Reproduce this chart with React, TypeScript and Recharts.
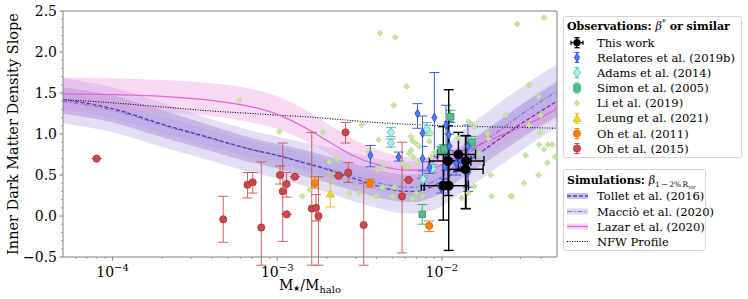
import React from "react";
import {
  ComposedChart,
  Area,
  Line,
  Scatter,
  ErrorBar,
  XAxis,
  YAxis,
  ReferenceLine,
} from "recharts";

const SERIF = "'DejaVu Serif', serif";
const AXIS = "#808080";

// simulation curves, sampled on a log grid of M*/Mhalo
const CURVE_X = [5e-5, 1e-4, 2e-4, 4e-4, 7e-4, 1e-3, 1.5e-3, 2e-3, 3e-3, 4e-3, 5e-3, 6e-3, 7e-3, 8e-3, 1e-2, 1.3e-2, 1.7e-2, 2.2e-2, 3e-2, 4e-2, 5e-2];
const TOLLET = [1.42, 1.31, 1.12, 0.95, 0.81, 0.74, 0.64, 0.57, 0.45, 0.37, 0.32, 0.3, 0.3, 0.33, 0.42, 0.6, 0.77, 0.93, 1.12, 1.28, 1.4];
const TOLLET_OUT_LO = [1.13, 1.02, 0.84, 0.67, 0.53, 0.46, 0.36, 0.29, 0.17, 0.1, 0.05, 0.03, 0.03, 0.05, 0.12, 0.28, 0.44, 0.6, 0.79, 0.96, 1.08];
const TOLLET_OUT_HI = [1.68, 1.57, 1.38, 1.18, 1.04, 0.97, 0.89, 0.84, 0.76, 0.7, 0.67, 0.66, 0.67, 0.71, 0.82, 1.02, 1.2, 1.37, 1.56, 1.73, 1.84];
const TOLLET_IN_LO = [1.25, 1.14, 0.96, 0.79, 0.65, 0.58, 0.48, 0.41, 0.3, 0.23, 0.19, 0.17, 0.17, 0.2, 0.28, 0.45, 0.61, 0.76, 0.94, 1.1, 1.22];
const TOLLET_IN_HI = [1.57, 1.47, 1.29, 1.1, 0.95, 0.88, 0.8, 0.73, 0.63, 0.56, 0.52, 0.5, 0.51, 0.54, 0.64, 0.83, 1.0, 1.16, 1.35, 1.51, 1.63];
const MACCIO = [1.4, 1.29, 1.11, 0.94, 0.81, 0.74, 0.65, 0.58, 0.48, 0.41, 0.37, 0.35, 0.35, 0.38, 0.48, 0.68, 0.87, 1.03, 1.23, 1.4, 1.52];
const MACCIO_LO = [1.3, 1.19, 1.01, 0.84, 0.71, 0.64, 0.55, 0.48, 0.38, 0.31, 0.27, 0.25, 0.25, 0.28, 0.38, 0.57, 0.76, 0.92, 1.11, 1.27, 1.38];
const MACCIO_HI = [1.5, 1.39, 1.21, 1.04, 0.91, 0.84, 0.75, 0.68, 0.58, 0.51, 0.47, 0.45, 0.45, 0.48, 0.58, 0.79, 0.98, 1.14, 1.35, 1.53, 1.66];
const LAZAR = [1.49, 1.48, 1.46, 1.41, 1.33, 1.24, 1.07, 0.92, 0.72, 0.63, 0.58, 0.56, 0.56, 0.57, 0.62, 0.74, 0.87, 0.97, 1.08, 1.2, 1.31];
const LAZAR_LO = [1.29, 1.28, 1.26, 1.22, 1.14, 1.06, 0.91, 0.77, 0.57, 0.48, 0.44, 0.43, 0.43, 0.45, 0.5, 0.63, 0.76, 0.86, 0.98, 1.1, 1.2];
const LAZAR_HI = [1.69, 1.68, 1.66, 1.62, 1.55, 1.46, 1.29, 1.13, 0.92, 0.81, 0.75, 0.72, 0.71, 0.71, 0.75, 0.86, 0.98, 1.08, 1.19, 1.31, 1.41];
const NFW = [1.42, 1.38, 1.33, 1.28, 1.25, 1.23, 1.21, 1.19, 1.16, 1.14, 1.13, 1.12, 1.115, 1.11, 1.1, 1.095, 1.09, 1.085, 1.08, 1.075, 1.07];

// observations: [x, y, yLow, yHigh]  (null = no error bar)
const OH2015 = [
  [8.0e-5, 0.7, null, null], [4.7e-4, -0.04, -0.32, 0.24], [6.6e-4, 0.38, 0.22, 0.53],
  [7.1e-4, 0.41, 0.28, 0.53], [8.0e-4, -0.14, -0.6, 0.66], [1.04e-3, 0.5, 0.39, 0.61],
  [1.08e-3, 0.3, -0.31, 0.89], [1.14e-3, 0.39, 0.23, 0.53], [1.14e-3, 0.02, null, null],
  [1.28e-3, 0.48, null, null], [1.62e-3, 0.09, -0.6, 1.02], [1.72e-3, 0.1, -0.06, 0.26],
  [1.78e-3, 0.0, -0.6, 0.48], [2.36e-3, 0.49, null, null], [2.6e-3, 1.02, 0.89, 1.14],
  [2.7e-3, 0.53, 0.41, 0.65], [3.35e-3, -0.11, -0.6, 0.4], [5.73e-3, 0.24, -0.45, 0.9],
  [6.28e-3, 0.44, null, null],
];
const OH2011 = [[1.69e-3, 0.4, 0.34, 0.48], [3.66e-3, 0.4, 0.35, 0.45], [8.37e-3, -0.12, -0.19, -0.06]];
const LEUNG = [[2.1e-3, 0.27, 0.11, 0.52]];
const SIMON = [
  [7.6e-3, 0.02, -0.1, 0.14], [9.9e-3, 0.8, 0.75, 0.85], [1.03e-2, 0.82, 0.77, 0.87],
  [1.13e-2, 1.21, 1.14, 1.29], [1.52e-2, 0.9, 0.83, 0.97],
];
const ADAMS = [
  [4.9e-3, 1.02, 0.97, 1.08], [4.9e-3, 0.89, 0.84, 0.94], [8.1e-3, 1.06, 0.98, 1.14],
  [7.7e-3, 0.45, 0.41, 0.49], [8.8e-3, 0.58, 0.53, 0.63],
];
const RELATORES = [
  [3.68e-3, 0.74, 0.6, 0.86], [5.46e-3, 0.72, 0.67, 0.78], [7.11e-3, 1.25, 1.07, 1.37],
  [7.63e-3, 1.01, 0.46, 1.22], [7.63e-3, 0.7, 0.55, 0.85], [8.4e-3, 0.59, 0.52, 0.66],
  [9.0e-3, 1.2, 0.72, 1.75], [1.06e-2, 1.11, 0.56, 1.35], [1.1e-2, 0.99, 0.8, 1.15],
  [1.11e-2, 0.85, 0.7, 1.0], [1.44e-2, 0.85, 0.3, 1.11], [1.44e-2, 0.53, 0.35, 0.7],
  [1.3e-2, 0.68, 0.55, 0.8], [1.22e-2, 0.64, 0.5, 0.78], [9.9e-3, 0.34, 0.28, 0.4],
  [1.04e-2, 0.6, 0.45, 0.75],
];
const LI = [
  [5.9e-4, 1.41], [1.03e-3, 1.03], [1.42e-3, 0.24], [1.57e-3, 0.32], [1.89e-3, 1.02], [2.07e-3, 0.66],
  [2.29e-3, 0.7], [2.74e-3, 0.28], [3.15e-3, 0.28], [3.26e-3, 1.11], [3.59e-3, 0.78], [4.13e-3, 0.93],
  [4.07e-3, 0.56], [4.43e-3, 0.62], [3.98e-3, 0.24], [4.36e-3, 0.35], [4.2e-3, 2.23], [5.2e-3, 2.18],
  [5.1e-3, 1.35], [5.0e-3, 0.24], [5.14e-3, 0.35], [5.9e-3, 0.24], [6.1e-3, 1.58], [6.5e-3, 0.97],
  [6.6e-3, 0.92], [6.3e-3, 0.76], [6.5e-3, 0.8], [6.9e-3, 0.89], [5.8e-3, 0.64], [6.6e-3, 0.21],
  [7.0e-3, 0.28], [7.6e-3, 0.24], [7.3e-3, 0.85], [7.1e-3, 0.66], [8.4e-3, 0.91], [8.6e-3, 1.01],
  [7.6e-3, 0.42], [8.6e-3, 0.72], [9.0e-3, 0.78], [6.7e-3, 0.72], [6.2e-3, 0.6], [1.32e-2, 0.22],
  [1.5e-2, 1.13], [1.57e-2, 1.09], [1.45e-2, 1.15], [1.57e-2, 0.36], [1.45e-2, 0.28], [1.89e-2, 1.01],
  [1.92e-2, 0.94], [1.98e-2, 0.5], [2.0e-2, 0.24], [2.44e-2, 1.23], [2.65e-2, 0.24], [2.87e-2, 2.34],
  [3.15e-2, 0.4], [3.23e-2, 0.74], [3.38e-2, 1.6], [3.38e-2, 1.11], [3.86e-2, 0.5], [3.89e-2, 0.87],
  [3.98e-2, 1.23], [3.94e-2, 1.02], [4.17e-2, 2.42], [4.17e-2, 0.81], [4.37e-2, 0.65], [4.4e-2, 0.87],
  [4.68e-2, 0.87], [4.86e-2, 0.72], [3.86e-2, 1.46], [2.62e-2, 0.24], [1.69e-2, 0.76], [1.25e-2, 0.95],
];
// this work: [x, y, xLow, xHigh, yLow, yHigh]
const THIS_WORK = [
  [1.02e-2, 0.37, 7.8e-3, 1.4e-2, -0.05, 1.09],
  [1.1e-2, 0.37, 7.5e-3, 1.45e-2, -0.42, 1.54],
  [1.09e-2, 0.67, 8.4e-3, 1.5e-2, 0.25, 1.1],
  [1.26e-2, 0.75, 9.4e-3, 1.6e-2, 0.55, 1.02],
  [1.4e-2, 0.67, 1.05e-2, 1.8e-2, 0.09, 0.98],
  [1.39e-2, 0.57, 1.1e-2, 1.78e-2, 0.09, 0.98],
];

const X_TICKS = [6e-5, 7e-5, 8e-5, 9e-5, 1e-4, 2e-4, 3e-4, 4e-4, 5e-4, 6e-4, 7e-4, 8e-4, 9e-4, 1e-3, 2e-3, 3e-3, 4e-3, 5e-3, 6e-3, 7e-3, 8e-3, 9e-3, 1e-2, 2e-2, 3e-2, 4e-2];
const X_MAJOR = [1e-4, 1e-3, 1e-2];
const Y_TICKS = [-0.5, -0.4, -0.3, -0.2, -0.1, 0, 0.1, 0.2, 0.3, 0.4, 0.5, 0.6, 0.7, 0.8, 0.9, 1, 1.1, 1.2, 1.3, 1.4, 1.5, 1.6, 1.7, 1.8, 1.9, 2, 2.1, 2.2, 2.3, 2.4, 2.5];
const Y_MAJOR = [-0.5, 0, 0.5, 1, 1.5, 2, 2.5];
const Y_LABELS = ["\u22120.5", "0.0", "0.5", "1.0", "1.5", "2.0", "2.5"];

const curveRows = CURVE_X.map((x, i) => ({
  x,
  tollet: TOLLET[i],
  maccio: MACCIO[i],
  lazar: LAZAR[i],
  nfw: NFW[i],
  tOuter: [TOLLET_OUT_LO[i], TOLLET_OUT_HI[i]],
  tInner: [TOLLET_IN_LO[i], TOLLET_IN_HI[i]],
  mBand: [MACCIO_LO[i], MACCIO_HI[i]],
  lBand: [LAZAR_LO[i], LAZAR_HI[i]],
}));

const toRows = (pts: any[]) =>
  pts.map(([x, y, lo, hi]) => ({ x, y, ey: [lo == null ? 0 : y - lo, hi == null ? 0 : hi - y] }));
const liRows = LI.map(([x, y]) => ({ x, y }));
const thisRows = THIS_WORK.map(([x, y, xl, xh, yl, yh]) => ({ x, y, ex: [x - xl, xh - x], ey: [y - yl, yh - y] }));

// marker drawings, shared by the plot and the legend
const dot = (fill: string, stroke: string, r: number) => (p: any) =>
  <circle cx={p.cx} cy={p.cy} r={r} fill={fill} stroke={stroke} strokeWidth={0.8} />;
const diamond = (fill: string, stroke: string, w: number, h: number) => (p: any) =>
  <polygon points={`${p.cx},${p.cy - h} ${p.cx + w},${p.cy} ${p.cx},${p.cy + h} ${p.cx - w},${p.cy}`} fill={fill} stroke={stroke} strokeWidth={0.8} />;
const square = (fill: string, stroke: string, s: number) => (p: any) =>
  <rect x={p.cx - s} y={p.cy - s} width={2 * s} height={2 * s} fill={fill} stroke={stroke} strokeWidth={0.8} />;
const triangle = (fill: string, stroke: string, s: number) => (p: any) =>
  <polygon points={`${p.cx},${p.cy - s} ${p.cx + s},${p.cy + s * 0.8} ${p.cx - s},${p.cy + s * 0.8}`} fill={fill} stroke={stroke} strokeWidth={0.8} />;
const plus = (fill: string, stroke: string, s: number, t: number) => (p: any) => {
  const { cx, cy } = p;
  const d = `M${cx - t},${cy - s}H${cx + t}V${cy - t}H${cx + s}V${cy + t}H${cx + t}V${cy + s}H${cx - t}V${cy + t}H${cx - s}V${cy - t}H${cx - t}Z`;
  return <path d={d} fill={fill} stroke={stroke} strokeWidth={0.4} />;
};

const RED = dot("#cd4848", "#a83232", 3.6);
const ORANGE = dot("#f5820f", "#d06a08", 3.6);
const YELLOW = triangle("#f2d634", "#d8b820", 4);
const GREEN = square("#4fbf8c", "#339a6d", 3.3);
const CYAN = diamond("#a6f0ee", "#4fb3b3", 3.6, 4.6);
const BLUE = diamond("#4c7cf0", "#2448d8", 2.6, 4.4);
const LIMARK = plus("#c4e8a0", "#b0da86", 2.6, 1.0);
const BLACK = dot("#000", "#000", 4.6);

function XTick(props: any) {
  const { x, y, payload } = props;
  const v = payload.value;
  const major = X_MAJOR.includes(v);
  const exp = Math.round(Math.log10(v));
  return (
    <g>
      <line x1={x} x2={x} y1={y} y2={y + (major ? 3.5 : 2)} stroke={AXIS} strokeWidth={major ? 1 : 0.7} />
      {major && (
        <text x={x} y={y + 20} textAnchor="middle" fontFamily={SERIF} fontSize={14} fill="#000">
          10<tspan dy={-6} fontSize={10}>{"\u2212" + -exp}</tspan>
        </text>
      )}
    </g>
  );
}

function YTick(props: any) {
  const { x, y, payload } = props;
  const idx = Y_MAJOR.indexOf(payload.value);
  const major = idx >= 0;
  return (
    <g>
      <line x1={x - (major ? 3.5 : 2)} x2={x} y1={y} y2={y} stroke={AXIS} strokeWidth={major ? 1 : 0.7} />
      {major && (
        <text x={x - 6} y={y} dy="0.36em" textAnchor="end" fontFamily={SERIF} fontSize={14} fill="#000">
          {Y_LABELS[idx]}
        </text>
      )}
    </g>
  );
}

// legend marker with a small vertical error bar
function LegMark({ x, y, shape, color, bar = true }: any) {
  return (
    <g>
      {bar && (
        <g stroke={color} strokeWidth={1}>
          <line x1={x} x2={x} y1={y - 5} y2={y + 5} />
          <line x1={x - 2.5} x2={x + 2.5} y1={y - 5} y2={y - 5} />
          <line x1={x - 2.5} x2={x + 2.5} y1={y + 5} y2={y + 5} />
        </g>
      )}
      {shape({ cx: x, cy: y })}
    </g>
  );
}

const OBS_LEGEND = [
  { label: "Relatores et al. (2019b)", shape: BLUE, color: "#3a5ee6" },
  { label: "Adams et al. (2014)", shape: CYAN, color: "#5cbaba" },
  { label: "Simon et al. (2005)", shape: GREEN, color: "#40ad7c" },
  { label: "Li et al. (2019)", shape: LIMARK, color: "", bar: false },
  { label: "Leung et al. (2021)", shape: YELLOW, color: "#e0c428" },
  { label: "Oh et al. (2011)", shape: ORANGE, color: "#ef7d10" },
  { label: "Oh et al. (2015)", shape: RED, color: "#c84848" },
];
const SIM_LEGEND = ["Tollet et al. (2016)", "Macci\u00f2 et al. (2020)", "Lazar et al. (2020)", "NFW Profile"];

function Overlay() {
  const lx = 577;
  const tx = 597;
  const rows = [57.5, 72.7, 88, 103.2, 118.3, 133.5, 148.5];
  const simRows = [196, 211.5, 226.5, 241.5];
  const T = { fontFamily: SERIF, fill: "#000" };
  const fs = 11.5;
  return (
    <svg width={748} height={299} style={{ position: "absolute", left: 0, top: 0, pointerEvents: "none" }}>
      {/* axis labels */}
      <text {...T} transform="translate(17.5,134) rotate(-90)" textAnchor="middle" fontSize={14.5}>
        Inner Dark Matter Density Slope
      </text>
      <text {...T} x={310} y={290} textAnchor="middle" fontSize={14}>
        M<tspan fontSize={8} dy={1}>{"\u2605"}</tspan>
        <tspan dy={-1}>/M</tspan>
        <tspan fontSize={10} dy={3}>halo</tspan>
      </text>

      {/* observations legend */}
      <rect x={563.5} y={16.5} width={178} height={141} rx={2} fill="#fff" fillOpacity={0.85} stroke="#d4d4d4" />
      <text {...T} x={567} y={30} fontSize={11} fontWeight="bold">
        Observations: <tspan fontStyle="italic" fontWeight="normal">{"\u03b2"}</tspan>
        <tspan fontSize={8} dy={-5} fontWeight="normal">*</tspan>
        <tspan dy={5}> or similar</tspan>
      </text>
      <g stroke="#000" strokeWidth={1.3}>
        <line x1={lx - 6} x2={lx + 6} y1={42.7} y2={42.7} />
        <line x1={lx} x2={lx} y1={37.7} y2={47.7} />
        <line x1={lx - 6} x2={lx - 6} y1={40.7} y2={44.7} />
        <line x1={lx + 6} x2={lx + 6} y1={40.7} y2={44.7} />
        <line x1={lx - 2.5} x2={lx + 2.5} y1={37.7} y2={37.7} />
        <line x1={lx - 2.5} x2={lx + 2.5} y1={47.7} y2={47.7} />
      </g>
      <circle cx={lx} cy={42.7} r={3.6} fill="#000" />
      <text {...T} x={tx} y={46.7} fontSize={fs}>This work</text>
      {OBS_LEGEND.map((e, i) => (
        <g key={e.label}>
          <LegMark x={lx} y={rows[i]} shape={e.shape} color={e.color} bar={e.bar !== false} />
          <text {...T} x={tx} y={rows[i] + 4} fontSize={fs}>{e.label}</text>
        </g>
      ))}

      {/* simulations legend */}
      <rect x={563.5} y={169.5} width={142} height={81} rx={2} fill="#fff" fillOpacity={0.85} stroke="#d4d4d4" />
      <text {...T} x={567} y={184} fontSize={11} fontWeight="bold">
        Simulations: <tspan fontStyle="italic" fontWeight="normal">{"\u03b2"}</tspan>
        <tspan fontSize={7.5} dy={3} fontWeight="normal">{"1\u2009\u2212\u20092%\u2009R"}</tspan>
        <tspan fontSize={5.5} dy={1.5} fontWeight="normal">vir</tspan>
      </text>
      <rect x={567} y={simRows[0] - 3} width={21} height={6} fill="#c9bdea" />
      <line x1={567} x2={588} y1={simRows[0]} y2={simRows[0]} stroke="#5a3ca8" strokeWidth={1.3} strokeDasharray="4 2" />
      <rect x={567} y={simRows[1] - 3} width={21} height={6} fill="#dcd4f6" />
      <line x1={567} x2={588} y1={simRows[1]} y2={simRows[1]} stroke="#8b6fe6" strokeWidth={1.2} strokeDasharray="5 2 1.5 2" />
      <rect x={567} y={simRows[2] - 3} width={21} height={6} fill="#f5d6f1" />
      <line x1={567} x2={588} y1={simRows[2]} y2={simRows[2]} stroke="#e264d8" strokeWidth={1.2} />
      <line x1={567} x2={588} y1={simRows[3]} y2={simRows[3]} stroke="#000" strokeWidth={1.1} strokeDasharray="1 1.5" />
      {SIM_LEGEND.map((t, i) => (
        <text {...T} key={t} x={tx} y={simRows[i] + 4} fontSize={fs}>{t}</text>
      ))}
    </svg>
  );
}

export default function App() {
  return (
    <div style={{ position: "absolute", left: 0, top: 0, width: 748, height: 299, background: "#fff" }}>
      <ComposedChart width={748} height={299} data={curveRows} margin={{ top: 11, right: 191, bottom: 12, left: 8 }}>
        <XAxis
          dataKey="x"
          type="number"
          scale="log"
          domain={[5e-5, 0.05]}
          allowDataOverflow
          ticks={X_TICKS}
          interval={0}
          tick={<XTick />}
          tickLine={false}
          tickSize={0}
          tickMargin={0}
          height={30}
          axisLine={{ stroke: AXIS }}
        />
        <YAxis
          type="number"
          domain={[-0.5, 2.5]}
          allowDataOverflow
          ticks={Y_TICKS}
          interval={0}
          tick={<YTick />}
          tickLine={false}
          tickSize={0}
          tickMargin={0}
          width={55}
          axisLine={{ stroke: AXIS }}
        />
        <ReferenceLine y={2.5} stroke={AXIS} />
        <ReferenceLine x={0.05} stroke={AXIS} />

        <Area dataKey="tOuter" type="monotone" stroke="none" fill="#9d8ad8" fillOpacity={0.28} isAnimationActive={false} dot={false} activeDot={false} />
        <Area dataKey="tInner" type="monotone" stroke="none" fill="#7c62c4" fillOpacity={0.3} isAnimationActive={false} dot={false} activeDot={false} />
        <Area dataKey="mBand" type="monotone" stroke="none" fill="#a592ea" fillOpacity={0.22} isAnimationActive={false} dot={false} activeDot={false} />
        <Area dataKey="lBand" type="monotone" stroke="none" fill="#e896e0" fillOpacity={0.36} isAnimationActive={false} dot={false} activeDot={false} />

        <Line dataKey="nfw" type="monotone" stroke="#000" strokeWidth={1.1} strokeDasharray="1 1.5" dot={false} activeDot={false} isAnimationActive={false} />
        <Line dataKey="lazar" type="monotone" stroke="#e264d8" strokeWidth={1.2} dot={false} activeDot={false} isAnimationActive={false} />
        <Line dataKey="maccio" type="monotone" stroke="#8b6fe6" strokeWidth={1.2} strokeDasharray="5 2 1.5 2" dot={false} activeDot={false} isAnimationActive={false} />
        <Line dataKey="tollet" type="monotone" stroke="#5a3ca8" strokeWidth={1.3} strokeDasharray="4 2" dot={false} activeDot={false} isAnimationActive={false} />

        <Scatter data={liRows} dataKey="y" shape={LIMARK} isAnimationActive={false} />
        <Scatter data={toRows(OH2015)} dataKey="y" shape={RED} isAnimationActive={false}>
          <ErrorBar dataKey="ey" direction="y" width={5} stroke="#c84848" strokeOpacity={0.85} strokeWidth={1} />
        </Scatter>
        <Scatter data={toRows(OH2011)} dataKey="y" shape={ORANGE} isAnimationActive={false}>
          <ErrorBar dataKey="ey" direction="y" width={5} stroke="#ef7d10" strokeWidth={1} />
        </Scatter>
        <Scatter data={toRows(LEUNG)} dataKey="y" shape={YELLOW} isAnimationActive={false}>
          <ErrorBar dataKey="ey" direction="y" width={5} stroke="#e0c428" strokeWidth={1} />
        </Scatter>
        <Scatter data={toRows(SIMON)} dataKey="y" shape={GREEN} isAnimationActive={false}>
          <ErrorBar dataKey="ey" direction="y" width={5} stroke="#40ad7c" strokeWidth={1} />
        </Scatter>
        <Scatter data={toRows(ADAMS)} dataKey="y" shape={CYAN} isAnimationActive={false}>
          <ErrorBar dataKey="ey" direction="y" width={5} stroke="#5cbaba" strokeWidth={1} />
        </Scatter>
        <Scatter data={toRows(RELATORES)} dataKey="y" shape={BLUE} isAnimationActive={false}>
          <ErrorBar dataKey="ey" direction="y" width={5} stroke="#3a5ee6" strokeWidth={1} />
        </Scatter>
        <Scatter data={thisRows} dataKey="y" shape={BLACK} isAnimationActive={false}>
          <ErrorBar dataKey="ex" direction="x" width={5} stroke="#000" strokeWidth={1.4} />
          <ErrorBar dataKey="ey" direction="y" width={5} stroke="#000" strokeWidth={1.4} />
        </Scatter>
      </ComposedChart>
      <Overlay />
    </div>
  );
}
